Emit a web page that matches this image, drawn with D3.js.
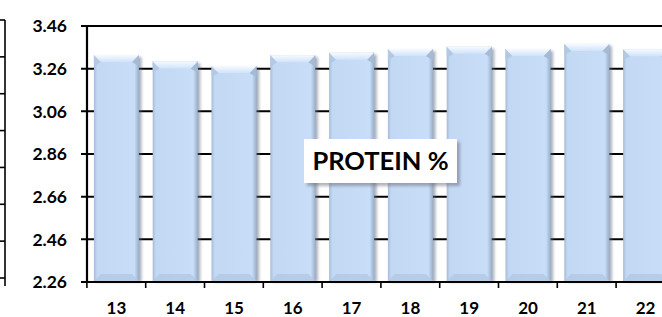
<!DOCTYPE html>
<html>
<head>
<meta charset="utf-8">
<script src="https://cdn.jsdelivr.net/npm/d3@7"></script>
<style>
  body { margin: 0; background: #fff; }
  svg { display: block; }
</style>
</head>
<body>
<div id="chart"></div>
<script>
// values
const categories = ["13", "14", "15", "16", "17", "18", "19", "20", "21", "22"];
const protein = [3.324, 3.294, 3.272, 3.323, 3.335, 3.352, 3.363, 3.352, 3.376, 3.351];
const yTicks = [2.26, 2.46, 2.66, 2.86, 3.06, 3.26, 3.46];
const title = "PROTEIN %";

const width = 662, height = 317;
const plotLeft = 87, plotTop = 26, plotBottom = 282;
const bandW = 58.8;

const svg = d3.select("#chart").append("svg")
    .attr("width", width)
    .attr("height", height)
    .style("font-family", "Lato, 'Open Sans', sans-serif")
    .style("font-weight", "bold");

const defs = svg.append("defs");

const gBody = defs.append("linearGradient").attr("id", "body").attr("x1", 0).attr("x2", 1).attr("y1", 0).attr("y2", 0);
gBody.append("stop").attr("offset", 0).attr("stop-color", "#a6bbd6");
gBody.append("stop").attr("offset", 0.07).attr("stop-color", "#c3d8f3");
gBody.append("stop").attr("offset", 0.9).attr("stop-color", "#c8ddf7");
gBody.append("stop").attr("offset", 1).attr("stop-color", "#9aafca");

const gTop = defs.append("linearGradient").attr("id", "bevtop").attr("x1", 0).attr("x2", 0).attr("y1", 0).attr("y2", 1);
gTop.append("stop").attr("offset", 0).attr("stop-color", "#f6faff");
gTop.append("stop").attr("offset", 1).attr("stop-color", "#d0e3fa");

const blur = defs.append("filter").attr("id", "shadow").attr("x", "-20%").attr("y", "-20%").attr("width", "140%").attr("height", "140%");
blur.append("feGaussianBlur").attr("stdDeviation", 1.6);

const x = d3.scaleBand()
    .domain(categories)
    .range([plotLeft, plotLeft + bandW * categories.length])
    .paddingInner(0.235)
    .paddingOuter(0.1175);

const y = d3.scaleLinear()
    .domain([2.26, 3.46])
    .range([plotBottom, plotTop]);

// partial neighbour chart at the far left edge
const yL = d3.scaleLinear().domain([0, 7]).range([278, 20]);
svg.append("line").attr("x1", 5).attr("x2", 5).attr("y1", 20).attr("y2", 286)
    .attr("stroke", "#000").attr("stroke-width", 1.6);
svg.append("g").selectAll("line").data(d3.range(8)).join("line")
    .attr("x1", 0).attr("x2", 5)
    .attr("y1", d => yL(d)).attr("y2", d => yL(d))
    .attr("stroke", "#000").attr("stroke-width", 1.6);

// gridlines
svg.append("g").selectAll("line").data(yTicks).join("line")
    .attr("x1", plotLeft - 6).attr("x2", width)
    .attr("y1", d => y(d)).attr("y2", d => y(d))
    .attr("stroke", "#000").attr("stroke-width", 2);

// bars
const bars = svg.append("g").selectAll("g").data(categories).join("g");
const b = 7;
bars.append("rect")
    .attr("x", d => x(d) + 2.5)
    .attr("y", (d, i) => y(protein[i]) + 2)
    .attr("width", x.bandwidth())
    .attr("height", (d, i) => plotBottom - y(protein[i]) - 2)
    .attr("fill", "#5a6a80").attr("opacity", 0.55)
    .attr("filter", "url(#shadow)");
bars.append("rect")
    .attr("x", d => x(d))
    .attr("y", (d, i) => y(protein[i]))
    .attr("width", x.bandwidth())
    .attr("height", (d, i) => plotBottom - 1 - y(protein[i]))
    .attr("fill", "url(#body)");
// side bevel triangles at the top corners
bars.append("polygon")
    .attr("points", (d, i) => {
        const x0 = x(d), y0 = y(protein[i]);
        return [[x0, y0], [x0 + b, y0 + b], [x0 + 2, y0 + b + 3], [x0, y0 + b + 3]].join(" ");
    })
    .attr("fill", "#b3c8e3");
bars.append("polygon")
    .attr("points", (d, i) => {
        const x1 = x(d) + x.bandwidth(), y0 = y(protein[i]);
        return [[x1, y0], [x1 - b, y0 + b], [x1 - 2, y0 + b + 3], [x1, y0 + b + 3]].join(" ");
    })
    .attr("fill", "#a5bad5");
bars.append("polygon")
    .attr("points", (d, i) => {
        const x0 = x(d), x1 = x(d) + x.bandwidth(), y0 = y(protein[i]);
        return [[x0, y0], [x1, y0], [x1 - b, y0 + b], [x0 + b, y0 + b]].join(" ");
    })
    .attr("fill", "url(#bevtop)");
bars.append("polygon")
    .attr("points", (d, i) => {
        const x0 = x(d), x1 = x(d) + x.bandwidth(), y1 = plotBottom - 1;
        return [[x0, y1], [x1, y1], [x1 - b, y1 - b], [x0 + b, y1 - b]].join(" ");
    })
    .attr("fill", "#b4c9e3").attr("opacity", 0.85);

// axes
svg.append("line").attr("x1", plotLeft).attr("x2", plotLeft).attr("y1", plotTop - 1).attr("y2", plotBottom + 1)
    .attr("stroke", "#000").attr("stroke-width", 2.2);
svg.append("line").attr("x1", plotLeft).attr("x2", width).attr("y1", plotBottom).attr("y2", plotBottom)
    .attr("stroke", "#000").attr("stroke-width", 2.2);

const xTickPos = categories.map(c => x(c) - x.step() * x.paddingInner() / 2 - 0.1);
svg.append("g").selectAll("line").data(xTickPos).join("line")
    .attr("x1", d => d).attr("x2", d => d)
    .attr("y1", plotBottom).attr("y2", plotBottom + 6)
    .attr("stroke", "#000").attr("stroke-width", 1.6);

svg.append("g").selectAll("text").data(yTicks).join("text")
    .attr("x", 67)
    .attr("y", d => y(d))
    .attr("dy", "0.36em")
    .attr("text-anchor", "end")
    .attr("font-size", 17.5)
    .attr("fill", "#000")
    .text(d => d.toFixed(2));

svg.append("g").selectAll("text").data(categories).join("text")
    .attr("x", d => x(d) + x.bandwidth() / 2)
    .attr("y", 308)
    .attr("dy", "0.36em")
    .attr("text-anchor", "middle")
    .attr("font-size", 17)
    .attr("fill", "#000")
    .text(d => d);

// title box
const tb = svg.append("g");
tb.append("rect").attr("x", 307).attr("y", 142).attr("width", 153).attr("height", 44)
    .attr("fill", "#667").attr("opacity", 0.5).attr("filter", "url(#shadow)");
tb.append("rect").attr("x", 304).attr("y", 139).attr("width", 153).attr("height", 44)
    .attr("fill", "#fff");
tb.append("text").attr("x", 380.5).attr("y", 161).attr("dy", "0.36em")
    .attr("text-anchor", "middle").attr("font-size", 25.5).attr("fill", "#000")
    .text(title);
</script>
</body>
</html>
